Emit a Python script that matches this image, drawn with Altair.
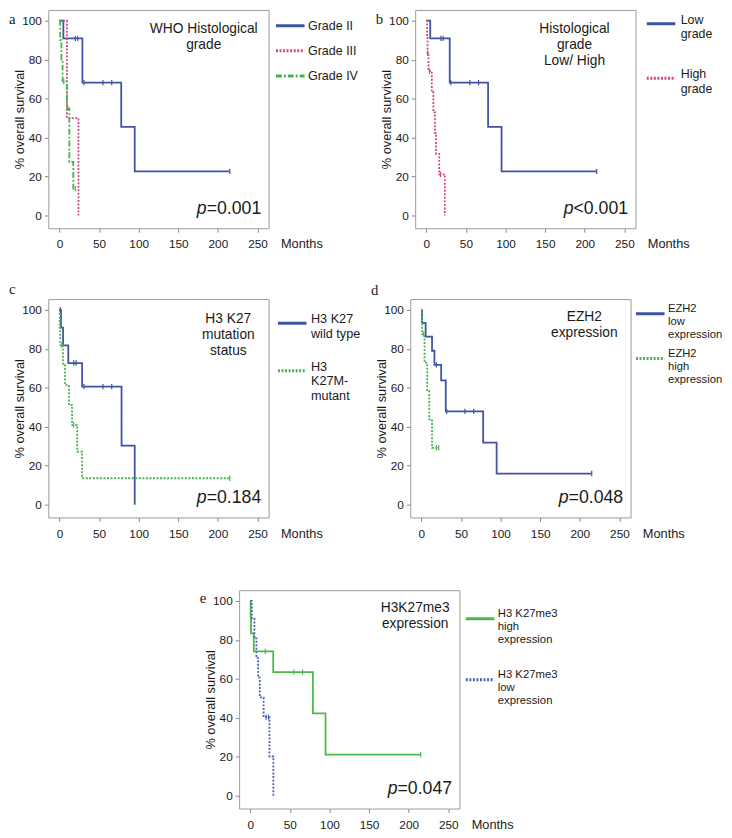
import altair as alt
import pandas as pd

FONT = "Liberation Sans"
INK = "#1a1a1a"
FRAME = "#9a9a9a"
BLUE = "#3f53a5"
PINK = "#d0428a"
GREEN = "#46b34a"
GREEN_E = "#4cb84c"
BLUE_E = "#4a5fb4"

SOLID = [1, 0]
DOT = [2, 1.6]
DASHDOT = [6, 2, 2, 2]

# ---------------- data (months, % survival) ----------------
# a) WHO histological grade
a_names = ["Grade II", "Grade III", "Grade IV"]
a_t = [[0, 5, 29, 78, 95, 215], [0, 9.5, 24], [0, 1, 2.5, 4, 9.5, 12.5, 17.5, 20]]
a_s = [[100, 90.9, 68.2, 45.5, 22.7, 22.7], [100, 50, 0], [100, 90, 80, 68.8, 55, 27.5, 13.8, 13.8]]
a_ct = [[20, 23, 31, 55, 66, 215], [], [5.5, 10.5, 20]]
a_cs = [[90.9, 90.9, 68.2, 68.2, 68.2, 22.7], [], [68.8, 55, 13.8]]

# b) histological grade low / high
b_names = ["Low\ngrade", "High\ngrade"]
b_t = [[0, 5, 29.6, 78, 95, 215], [0, 1, 1.6, 2.8, 7, 9, 11, 12.3, 16.4, 23.4]]
b_s = [[100, 90.9, 68.2, 45.5, 22.7, 22.7], [100, 91.7, 83.3, 74.1, 63.5, 52.9, 42.3, 31.7, 21.2, 0]]
b_ct = [[18.5, 21.3, 31, 55, 66, 215], [1.8, 4, 18]]
b_cs = [[90.9, 90.9, 68.2, 68.2, 68.2, 22.7], [83.3, 74.1, 21.2]]

# c) H3 K27 mutation status
c_names = ["H3 K27\nwild type", "H3\nK27M-\nmutant"]
c_t = [[0, 2, 4.6, 11.2, 28.6, 78.4, 95], [0, 0.5, 1, 4.6, 7, 12, 16, 22.4, 28.6, 215]]
c_s = [[100, 90.9, 81.8, 72.7, 60.6, 30.3, 0], [100, 90.9, 81.8, 71.6, 61.4, 51.1, 40.9, 27.3, 13.6, 13.6]]
c_ct = [[1, 18.2, 21, 31, 55, 66], [3, 18, 215]]
c_cs = [[100, 72.7, 72.7, 60.6, 60.6, 60.6], [81.8, 40.9, 13.6]]

# d) EZH2 expression
d_names = ["EZH2\nlow\nexpression", "EZH2\nhigh\nexpression"]
d_t = [[0, 1, 5.4, 13.5, 16.5, 25, 30.8, 78, 95, 215], [0, 1, 4, 7.4, 10, 13.5, 22]]
d_s = [[100, 93.3, 86.2, 79, 71.8, 63.8, 47.9, 31.9, 16, 16], [100, 87.5, 72.9, 58.3, 43.8, 29.2, 29.2]]
d_ct = [[19, 32, 55, 66, 215], [3, 19, 22]]
d_cs = [[71.8, 47.9, 47.9, 47.9, 16], [87.5, 29.2, 29.2]]

# e) H3K27me3 expression
e_names = ["H3 K27me3\nhigh\nexpression", "H3 K27me3\nlow\nexpression"]
e_t = [[0, 0.5, 1, 4.5, 29, 79, 95, 215], [0, 2, 5.3, 7.8, 10, 12, 16.9, 24.3, 29.2]]
e_s = [[100, 91.7, 83.3, 74.1, 63.5, 42.3, 21.2, 21.2], [100, 90.9, 80.8, 70.7, 60.6, 50.5, 40.4, 20.2, 0]]
e_ct = [[19, 55, 66, 215], [20, 23]]
e_cs = [[74.1, 63.5, 63.5, 21.2], [40.4, 40.4]]

x_ticks = [0, 50, 100, 150, 200, 250]
y_ticks = [0, 20, 40, 60, 80, 100]

W, H = 224, 222
one = pd.DataFrame({"k": [0]})


def txt(s, x, y, **kw):
    return alt.Chart(one).mark_text(text=s, font=FONT, color=INK, **kw).encode(
        x=alt.value(x), y=alt.value(y))


def km_panel(letter, letter_y, names, times, survs, ctimes, csurvs, colors, dashes,
             title_lines, title_x, title_y, pval, leg_x, leg_y, leg_pad, leg_fs, leg_off,
             leg_base, top_room=None):
    rows = []
    for n, ts, ss in zip(names, times, survs):
        for i, (t, s) in enumerate(zip(ts, ss)):
            rows.append({"series": n, "t": t, "s": s, "i": i})
    df = pd.DataFrame(rows)
    crows = []
    for n, ts, ss in zip(names, ctimes, csurvs):
        for t, s in zip(ts, ss):
            crows.append({"series": n, "t": t, "s": s})
    cdf = pd.DataFrame(crows)

    xs = alt.Scale(domain=[-14, 264], nice=False, zero=False)
    ys = alt.Scale(domain=[-6.5, 105.5], nice=False, zero=False)
    leg = alt.Legend(orient="none", legendX=leg_x, legendY=leg_y, title=None,
                     symbolType="stroke", symbolSize=841, symbolStrokeWidth=3,
                     labelFont=FONT, labelFontSize=leg_fs, labelColor=INK,
                     labelOffset=leg_off, rowPadding=leg_pad, padding=0,
                     labelBaseline=leg_base,
                     labelLimit=300, labelExpr="split(datum.label, '\\n')")
    xaxis = alt.Axis(values=x_ticks, title="Months", titleX=236, titleY=16,
                     titleAlign="left", titleBaseline="middle", titleFontSize=13,
                     tickSize=4, labelPadding=7, labelFontSize=12)
    yaxis = alt.Axis(values=y_ticks, title="% overall  survival", titleX=-29,
                     titleY=H / 2, titleAngle=270, titleBaseline="middle",
                     titleAlign="center", titleFontSize=13,
                     tickSize=4, labelPadding=3, labelFontSize=12)
    lines = alt.Chart(df).mark_line(interpolate="step-after", strokeWidth=1.8).encode(
        x=alt.X("t:Q", scale=xs, axis=xaxis),
        y=alt.Y("s:Q", scale=ys, axis=yaxis),
        color=alt.Color("series:N", scale=alt.Scale(domain=names, range=colors), legend=leg),
        strokeDash=alt.StrokeDash("series:N", scale=alt.Scale(domain=names, range=dashes), legend=leg),
        order=alt.Order("i:Q"),
    )
    cens = alt.Chart(cdf).mark_point(shape="M0,-1L0,1", size=30, filled=False,
                                     strokeWidth=1.2, opacity=1).encode(
        x="t:Q", y="s:Q",
        stroke=alt.Stroke("series:N", scale=alt.Scale(domain=names, range=colors), legend=None),
    )
    layers = [lines, cens]
    for k, line in enumerate(title_lines):
        layers.append(txt(line, title_x, title_y + 16.5 * k, fontSize=14,
                          align="center", baseline="middle"))
    layers.append(txt("p", 161, 207, fontSize=18, fontStyle="italic",
                      align="right", baseline="alphabetic"))
    layers.append(txt(pval, 161, 207, fontSize=18, align="left", baseline="alphabetic"))
    layers.append(alt.Chart(one).mark_text(text=letter, font="Liberation Serif", fontSize=15,
                                           color=INK, align="left", baseline="middle").encode(
        x=alt.value(-40), y=alt.value(letter_y)))
    if top_room is not None:
        # invisible text that reserves room above the frame
        layers.append(alt.Chart(one).mark_text(text=letter, font="Liberation Serif", fontSize=15,
                                               opacity=0, align="left", baseline="middle").encode(
            x=alt.value(-40), y=alt.value(top_room)))
    return alt.layer(*layers).properties(width=W, height=H)


pa = km_panel("a", 9, a_names, a_t, a_s, a_ct, a_cs, [BLUE, PINK, GREEN], [SOLID, DOT, DASHDOT],
              ["WHO Histological", "grade"], 158, 19, "=0.001", 230, 0, 2.6, 12.7, 2, "middle")
pb = km_panel("b", 9, b_names, b_t, b_s, b_ct, b_cs, [BLUE, PINK], [SOLID, DOT],
              ["Histological", "grade", "Low/ High"], 162, 19, "<0.001", 234, -2, 21.5, 12.6, 4,
              "alphabetic")
pc = km_panel("c", -10, c_names, c_t, c_s, c_ct, c_cs, [BLUE, GREEN], [SOLID, DOT],
              ["H3 K27", "mutation", "status"], 183, 20, "=0.184", 232, 8.5, 14.4, 12.9, 3,
              "alphabetic")
pd_ = km_panel("d", -9, d_names, d_t, d_s, d_ct, d_cs, [BLUE, GREEN], [SOLID, DOT],
               ["EZH2", "expression"], 177, 18, "=0.048", 228, -1, 1.5, 11.4, 2, "bottom")
pe = km_panel("e", 8, e_names, e_t, e_s, e_ct, e_cs, [GREEN_E, BLUE_E], [SOLID, DOT],
              ["H3K27me3", "expression"], 179, 18, "=0.047", 229, 13, 18, 11.5, 2, "bottom",
              top_room=-12)

spacer = alt.Chart(one).mark_point(opacity=0).encode(
    x=alt.value(0), y=alt.value(0)).properties(
    width=142, height=10, view=alt.ViewBackground(stroke="transparent"))

ind = dict(color="independent", strokeDash="independent", stroke="independent")
row1 = alt.hconcat(pa, pb, spacing=16).resolve_scale(**ind)
row2 = alt.hconcat(pc, pd_, spacing=8).resolve_scale(**ind)
row3 = alt.hconcat(spacer, pe, spacing=10).resolve_scale(**ind)
chart = alt.vconcat(row1, row2, row3, spacing=30).resolve_scale(**ind).properties(
    padding={"top": -8, "bottom": 0, "left": 0, "right": 0}
).configure_view(stroke=FRAME, strokeWidth=1).configure_axis(
    labelFont=FONT, titleFont=FONT, labelColor=INK, titleColor=INK,
    tickColor="#8a8a8a", titleFontWeight="normal", domain=False, grid=False
)

chart.save("out.html", embed_options={"renderer": "svg", "actions": False})
